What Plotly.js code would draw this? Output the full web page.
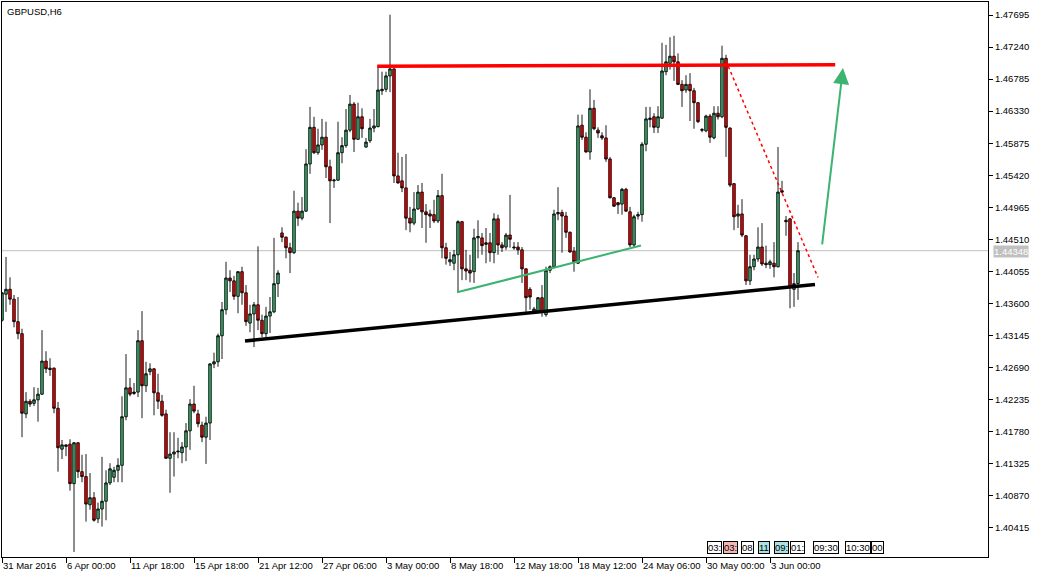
<!DOCTYPE html>
<html>
<head>
<meta charset="utf-8">
<script src="https://cdn.plot.ly/plotly-3.0.1.min.js"></script>
<style>
html,body{margin:0;padding:0;background:#fff;}
#chart{width:1043px;height:579px;}
</style>
</head>
<body>
<div id="chart"></div>
<script>
// GBPUSD H6 OHLC values
const openP = [
1.4336,1.4373,1.4380,1.4366,1.4334,1.4317,1.4203,1.4221,1.4218,1.4223,
1.4231,1.4278,1.4268,1.4268,1.4211,1.4153,1.4159,1.4160,1.4104,1.4162,
1.4121,1.4114,1.4074,1.4084,1.4054,1.4068,1.4079,1.4105,1.4113,1.4123,
1.4130,1.4199,1.4240,1.4232,1.4234,1.4307,1.4243,1.4263,1.4267,1.4233,
1.4221,1.4203,1.4140,1.4146,1.4149,1.4148,1.4156,1.4179,1.4217,1.4203,
1.4187,1.4170,1.4190,1.4274,1.4277,1.4314,1.4351,1.4396,1.4392,1.4370,
1.4405,1.4375,1.4332,1.4345,1.4358,1.4336,1.4317,1.4342,1.4348,1.4388,
1.4460,1.4454,1.4439,1.4432,1.4491,1.4481,1.4491,1.4558,1.4610,1.4574,
1.4585,1.4596,1.4554,1.4534,1.4535,1.4574,1.4584,1.4606,1.4643,1.4593,
1.4625,1.4582,1.4591,1.4609,1.4611,1.4662,1.4664,1.4683,1.4693,1.4541,
1.4534,1.4524,1.4481,1.4474,1.4494,1.4518,1.4490,1.4487,1.4486,1.4477,
1.4513,1.4439,1.4419,1.4417,1.4429,1.4476,1.4409,1.4407,1.4405,1.4453,
1.4453,1.4446,1.4446,1.4432,1.4480,1.4443,1.4440,1.4457,1.4440,1.4440,
1.4436,1.4409,1.4380,1.4349,1.4349,1.4368,1.4344,1.4407,1.4412,1.4487,
1.4489,1.4484,1.4461,1.4434,1.4417,1.4613,1.4596,1.4575,1.4637,1.4606,
1.4598,1.4595,1.4565,1.4510,1.4503,1.4501,1.4522,1.4490,1.4443,1.4484,
1.4486,1.4586,1.4621,1.4625,1.4610,1.4623,1.4689,1.4701,1.4711,1.4703,
1.4671,1.4663,1.4671,1.4662,1.4645,1.4607,1.4605,1.4626,1.4595,1.4630,
1.4625,1.4708,1.4609,1.4530,1.4484,1.4487,1.4456,1.4392,1.4412,1.4423,
1.4440,1.4417,1.4415,1.4417,1.4412,1.4520,1.4478,1.4480,1.4380,1.4388
];
const highP = [
1.4376,1.4426,1.4397,1.4372,1.4369,1.4324,1.4234,1.4224,1.4241,1.4240,
1.4322,1.4292,1.4282,1.4269,1.4220,1.4166,1.4160,1.4167,1.4163,1.4163,
1.4145,1.4146,1.4119,1.4092,1.4077,1.4142,1.4123,1.4133,1.4128,1.4140,
1.4228,1.4288,1.4254,1.4247,1.4322,1.4349,1.4277,1.4275,1.4268,1.4260,
1.4230,1.4209,1.4177,1.4177,1.4169,1.4163,1.4190,1.4224,1.4243,1.4209,
1.4192,1.4199,1.4275,1.4290,1.4317,1.4362,1.4419,1.4407,1.4399,1.4406,
1.4412,1.4386,1.4358,1.4362,1.4441,1.4344,1.4355,1.4369,1.4453,1.4407,
1.4468,1.4455,1.4446,1.4520,1.4503,1.4511,1.4579,1.4639,1.4625,1.4608,
1.4622,1.4618,1.4564,1.4537,1.4618,1.4596,1.4636,1.4656,1.4646,1.4645,
1.4637,1.4595,1.4622,1.4636,1.4696,1.4689,1.4689,1.4770,1.4694,1.4574,
1.4568,1.4572,1.4497,1.4518,1.4528,1.4531,1.4501,1.4493,1.4507,1.4521,
1.4544,1.4446,1.4433,1.4436,1.4478,1.4477,1.4436,1.4429,1.4466,1.4478,
1.4460,1.4467,1.4460,1.4488,1.4486,1.4447,1.4460,1.4514,1.4447,1.4447,
1.4440,1.4410,1.4383,1.4355,1.4369,1.4386,1.4412,1.4414,1.4493,1.4525,
1.4493,1.4490,1.4462,1.4440,1.4628,1.4628,1.4603,1.4664,1.4649,1.4610,
1.4603,1.4613,1.4568,1.4511,1.4504,1.4524,1.4524,1.4497,1.4486,1.4490,
1.4589,1.4639,1.4639,1.4630,1.4640,1.4730,1.4727,1.4738,1.4740,1.4715,
1.4677,1.4684,1.4687,1.4666,1.4646,1.4609,1.4628,1.4629,1.4640,1.4640,
1.4726,1.4713,1.4610,1.4531,1.4500,1.4508,1.4457,1.4429,1.4429,1.4468,
1.4474,1.4442,1.4422,1.4447,1.4582,1.4534,1.4484,1.4481,1.4403,1.4447
];
const lowP = [
1.4334,1.4348,1.4358,1.4326,1.4309,1.4170,1.4197,1.4213,1.4214,1.4192,
1.4230,1.4261,1.4257,1.4204,1.4121,1.4139,1.4143,1.4094,1.4007,1.4112,
1.4106,1.4050,1.4067,1.4050,1.4048,1.4043,1.4052,1.4102,1.4106,1.4106,
1.4106,1.4194,1.4228,1.4230,1.4227,1.4197,1.4234,1.4258,1.4201,1.4210,
1.4199,1.4139,1.4091,1.4114,1.4140,1.4133,1.4136,1.4152,1.4204,1.4184,
1.4163,1.4132,1.4166,1.4268,1.4270,1.4281,1.4344,1.4376,1.4365,1.4346,
1.4358,1.4328,1.4319,1.4298,1.4322,1.4312,1.4312,1.4318,1.4346,1.4369,
1.4447,1.4424,1.4403,1.4430,1.4470,1.4478,1.4490,1.4544,1.4572,1.4571,
1.4578,1.4538,1.4474,1.4524,1.4534,1.4559,1.4581,1.4603,1.4575,1.4592,
1.4595,1.4581,1.4588,1.4603,1.4610,1.4656,1.4660,1.4660,1.4531,1.4530,
1.4518,1.4464,1.4461,1.4471,1.4493,1.4467,1.4446,1.4467,1.4474,1.4474,
1.4424,1.4415,1.4413,1.4407,1.4375,1.4393,1.4393,1.4390,1.4389,1.4424,
1.4429,1.4417,1.4419,1.4417,1.4429,1.4433,1.4436,1.4439,1.4436,1.4429,
1.4389,1.4348,1.4351,1.4348,1.4346,1.4341,1.4341,1.4403,1.4410,1.4478,
1.4432,1.4453,1.4432,1.4405,1.4416,1.4592,1.4574,1.4564,1.4606,1.4595,
1.4592,1.4561,1.4509,1.4497,1.4487,1.4486,1.4490,1.4440,1.4440,1.4479,
1.4476,1.4576,1.4610,1.4602,1.4602,1.4622,1.4684,1.4692,1.4676,1.4670,
1.4639,1.4659,1.4619,1.4608,1.4616,1.4603,1.4603,1.4588,1.4593,1.4621,
1.4623,1.4568,1.4525,1.4464,1.4467,1.4454,1.4386,1.4386,1.4407,1.4419,
1.4413,1.4410,1.4409,1.4397,1.4411,1.4516,1.4456,1.4353,1.4355,1.4365
];
const closeP = [
1.4375,1.4380,1.4366,1.4334,1.4317,1.4204,1.4221,1.4217,1.4223,1.4231,
1.4278,1.4267,1.4266,1.4211,1.4155,1.4159,1.4157,1.4104,1.4162,1.4121,
1.4114,1.4075,1.4084,1.4052,1.4068,1.4079,1.4105,1.4125,1.4123,1.4130,
1.4199,1.4240,1.4231,1.4234,1.4307,1.4243,1.4260,1.4267,1.4233,1.4221,
1.4201,1.4140,1.4146,1.4149,1.4150,1.4156,1.4179,1.4217,1.4207,1.4189,
1.4170,1.4190,1.4274,1.4277,1.4314,1.4351,1.4396,1.4392,1.4370,1.4405,
1.4375,1.4334,1.4345,1.4358,1.4336,1.4317,1.4342,1.4348,1.4388,1.4403,
1.4454,1.4439,1.4432,1.4491,1.4481,1.4491,1.4558,1.4610,1.4574,1.4585,
1.4596,1.4554,1.4534,1.4535,1.4574,1.4584,1.4606,1.4643,1.4593,1.4625,
1.4608,1.4589,1.4609,1.4612,1.4663,1.4664,1.4683,1.4693,1.4541,1.4531,
1.4524,1.4481,1.4474,1.4494,1.4518,1.4490,1.4486,1.4484,1.4477,1.4513,
1.4439,1.4424,1.4422,1.4429,1.4476,1.4409,1.4406,1.4403,1.4453,1.4455,
1.4442,1.4444,1.4432,1.4480,1.4443,1.4439,1.4457,1.4451,1.4439,1.4436,
1.4409,1.4368,1.4369,1.4352,1.4368,1.4348,1.4407,1.4412,1.4487,1.4489,
1.4484,1.4461,1.4433,1.4419,1.4612,1.4596,1.4575,1.4637,1.4608,1.4602,
1.4595,1.4565,1.4510,1.4498,1.4500,1.4522,1.4491,1.4443,1.4483,1.4486,
1.4586,1.4622,1.4623,1.4610,1.4625,1.4690,1.4703,1.4711,1.4703,1.4671,
1.4662,1.4671,1.4662,1.4645,1.4618,1.4606,1.4626,1.4596,1.4630,1.4625,
1.4708,1.4610,1.4528,1.4483,1.4487,1.4457,1.4392,1.4412,1.4423,1.4440,
1.4416,1.4415,1.4419,1.4412,1.4518,1.4518,1.4476,1.4383,1.4388,1.44348
];

// Axis tick labels
const xTickBars = [0,16,32,48,64,80,96,112,128,144,160,176,192];
const xTickLabels = ['31 Mar 2016','6 Apr 00:00','11 Apr 18:00','15 Apr 18:00','21 Apr 12:00',
  '27 Apr 06:00','3 May 00:00','8 May 18:00','12 May 18:00','18 May 12:00','24 May 06:00',
  '30 May 00:00','3 Jun 00:00'];
const yTickLabels = ['1.40415','1.40870','1.41325','1.41780','1.42235','1.42690','1.43145',
  '1.43600','1.44055','1.44510','1.44965','1.45420','1.45875','1.46330','1.46785','1.47240','1.47695'];
const lastPrice = 1.44348;

// Drawn objects (bar index, price)
const resistX = [93.8, 208.3];
const resistY = [1.46967, 1.46988];
const supportX = [60.75, 203.25];
const supportY = [1.43066, 1.43868];
const channelX = [113.8, 159.75];
const channelY = [1.43757, 1.44422];
const dottedX = [181, 204];
const dottedY = [1.47042, 1.43968];
const arrowX = [205, 210.25];
const arrowY = [1.44415, 1.46942];

// Terminal widget labels (bottom right)
const widgetLabels = ['03:','03:','08','11','09:','01:','09:30','10:30','00'];
const widgetColors = ['#ffffff','#f5b5b5','#ffffff','#a8e2e2','#a8e2e2','#ffffff','#ffffff','#ffffff','#ffffff'];
const widgetPx = [714,730,747.5,764,781.5,797.5,826,857.5,877.5];

const bars = openP.map((_, i) => i);
const FONT = 'Liberation Sans, Arial, sans-serif';

const traces = [
  {
    type: 'candlestick', x: bars, open: openP, high: highP, low: lowP, close: closeP,
    increasing: {line: {color: '#000000', width: 0.9}, fillcolor: '#3cb371'},
    decreasing: {line: {color: '#000000', width: 0.9}, fillcolor: '#ff0000'},
    whiskerwidth: 0, hoverinfo: 'skip', showlegend: false
  },
  {type: 'scatter', mode: 'lines', x: resistX, y: resistY, line: {color: '#ff0000', width: 3.5}, hoverinfo: 'skip', showlegend: false},
  {type: 'scatter', mode: 'lines', x: supportX, y: supportY, line: {color: '#000000', width: 3.5}, hoverinfo: 'skip', showlegend: false},
  {type: 'scatter', mode: 'lines', x: channelX, y: channelY, line: {color: '#3cb371', width: 2}, hoverinfo: 'skip', showlegend: false},
  {type: 'scatter', mode: 'lines', x: dottedX, y: dottedY, line: {color: '#ff0000', width: 1.5, dash: 'dot'}, hoverinfo: 'skip', showlegend: false}
];

const W = 1043, H = 579, ML = 2, MR = 55, MT = 2, MB = 22;
const PW = W - ML - MR, PH = H - MT - MB;

const annotations = [
  {xref: 'paper', yref: 'paper', x: 3 / PW, y: 1, yshift: -2, xanchor: 'left', yanchor: 'top',
   text: 'GBPUSD,H6', showarrow: false, font: {family: FONT, size: 9.5, color: '#000'}},
  {xref: 'paper', yref: 'y', x: 1, xshift: 5, y: lastPrice, yshift: -1, xanchor: 'left', yanchor: 'middle',
   text: lastPrice.toFixed(5), showarrow: false, bgcolor: '#c0c0c0', borderpad: 0,
   font: {family: FONT, size: 9.5, color: '#ffffff'}},
  {x: arrowX[1], y: arrowY[1], ax: arrowX[0], ay: arrowY[0], xref: 'x', yref: 'y', axref: 'x', ayref: 'y',
   text: '', showarrow: true, arrowhead: 2, arrowsize: 1.6, arrowwidth: 2, arrowcolor: '#3cb371', standoff: 0}
];
widgetLabels.forEach((t, i) => {
  annotations.push({
    xref: 'paper', yref: 'paper', x: (widgetPx[i] - ML) / PW, y: 9.5 / PH,
    xanchor: 'center', yanchor: 'middle', text: t, showarrow: false,
    bgcolor: widgetColors[i], bordercolor: '#000', borderwidth: 1, borderpad: 0,
    font: {family: FONT, size: 9.5, color: '#000'}
  });
});

const layout = {
  width: W, height: H,
  margin: {l: ML, r: MR, t: MT, b: MB, pad: 0},
  paper_bgcolor: '#ffffff', plot_bgcolor: '#ffffff',
  showlegend: false, dragmode: false, boxgap: 0.1,
  xaxis: {
    type: 'linear', range: [0, PW / 4],
    tickvals: xTickBars, ticktext: xTickLabels, tickangle: 0, automargin: false,
    ticks: 'outside', ticklen: 5, tickcolor: '#000', tickwidth: 1,
    ticklabelposition: 'outside right', ticklabeloverflow: 'allow',
    showline: true, linecolor: '#000', linewidth: 1, mirror: true,
    showgrid: false, zeroline: false, rangeslider: {visible: false},
    tickfont: {family: FONT, size: 9.5, color: '#000'}, fixedrange: true
  },
  yaxis: {
    side: 'right', range: [1.39998, 1.47880], automargin: false,
    tickvals: yTickLabels.map(Number), ticktext: yTickLabels,
    ticks: 'outside', ticklen: 4, tickcolor: '#000', tickwidth: 1,
    showline: true, linecolor: '#000', linewidth: 1, mirror: true,
    showgrid: false, zeroline: false,
    tickfont: {family: FONT, size: 9.5, color: '#000'}, fixedrange: true
  },
  shapes: [
    {type: 'line', xref: 'paper', x0: 0, x1: 1, yref: 'y', y0: lastPrice, y1: lastPrice,
     line: {color: '#c0c0c0', width: 1}, layer: 'below'}
  ],
  annotations: annotations
};

Plotly.newPlot('chart', traces, layout, {staticPlot: true, displayModeBar: false});
</script>
</body>
</html>
